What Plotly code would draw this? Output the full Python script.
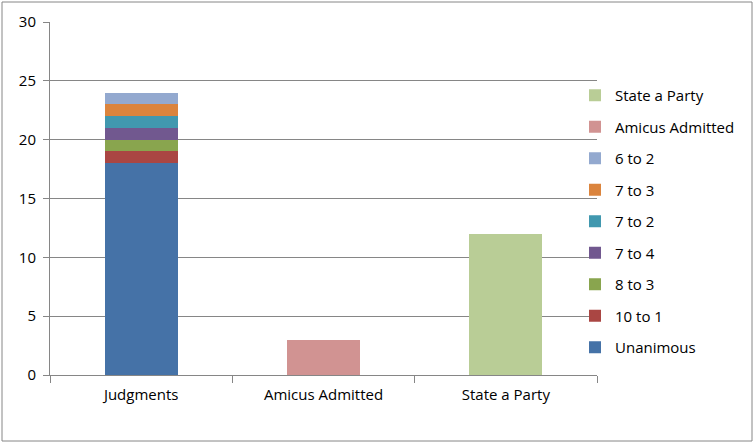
import plotly.graph_objects as go

categories = ["Judgments", "Amicus Admitted", "State a Party"]
judgment_series = ["Unanimous", "10 to 1", "8 to 3", "7 to 4", "7 to 2", "7 to 3", "6 to 2"]
judgment_values = [18, 1, 1, 1, 1, 1, 1]
judgment_colors = ["#4572A7", "#AA4643", "#89A54E", "#71588F", "#4198AF", "#DB843D", "#93A9CF"]
amicus_value = 3
state_value = 12
y_ticks = [0, 5, 10, 15, 20, 25, 30]

FONT = "Open Sans"
GRAY = "#868686"

fig = go.Figure()
for i, (name, val, col) in enumerate(zip(judgment_series, judgment_values, judgment_colors)):
    fig.add_trace(go.Bar(name=name, x=[categories[0]], y=[val], marker_color=col,
                         marker_line_width=0, legendgroup=name, legendrank=100 - i))
fig.add_trace(go.Bar(name="Amicus Admitted", x=[categories[1]], y=[amicus_value],
                     marker_color="#D19392", marker_line_width=0, legendgroup="Amicus Admitted",
                     legendrank=20))
fig.add_trace(go.Bar(name="State a Party", x=[categories[2]], y=[state_value],
                     marker_color="#B9CD96", marker_line_width=0, legendgroup="State a Party",
                     legendrank=10))

fig.update_layout(
    width=755, height=445,
    margin=dict(l=50, r=158, t=22, b=70, autoexpand=False),
    paper_bgcolor="white", plot_bgcolor="white",
    barmode="stack", bargap=0.6,
    font=dict(family=FONT, size=15, color="black"),
    legend=dict(traceorder="grouped", xref="container", yref="container",
                x=575 / 755, xanchor="left", y=1 - 221.5 / 445, yanchor="middle",
                tracegroupgap=9, font=dict(family=FONT, size=15), itemclick=False,
                bgcolor="rgba(0,0,0,0)", maxheight=420),
    xaxis=dict(categoryorder="array", categoryarray=categories, showline=True, linecolor=GRAY,
               linewidth=1, ticks="outside", ticklen=7, tickcolor=GRAY, tickson="boundaries",
               showgrid=False, ticklabelstandoff=6),
    yaxis=dict(range=[0, 30], tickvals=y_ticks, showline=True, linecolor=GRAY, linewidth=1,
               ticks="outside", ticklen=6, tickcolor=GRAY, showgrid=True, gridcolor=GRAY,
               gridwidth=1, zeroline=False, ticklabelstandoff=4),
    shapes=[dict(type="rect", xref="paper", yref="paper",
                 x0=(2 - 50) / 547, x1=(752 - 50) / 547,
                 y0=(375 - 441) / 353, y1=(375 - 2) / 353,
                 line=dict(color=GRAY, width=1), fillcolor="rgba(0,0,0,0)", layer="below")],
)

fig.write_html("out.html", config={"displayModeBar": False},
               post_script="document.body.style.margin='0';")
